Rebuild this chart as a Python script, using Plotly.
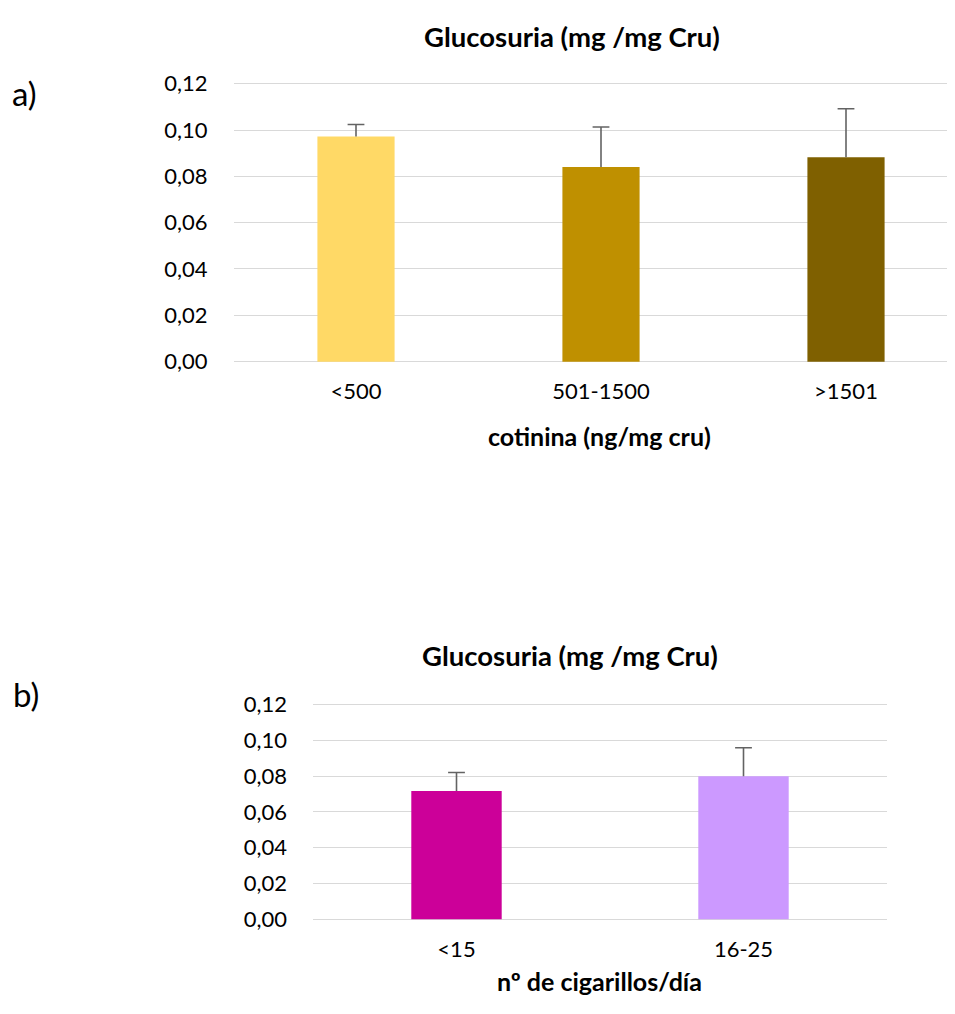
import plotly.graph_objects as go

# page is 955x1014; the html body adds an 8px margin, so the figure is 939x998
PAGE_W, PAGE_H = 955, 1014
OFF = 8
W, H = PAGE_W - 2 * OFF, PAGE_H - 2 * OFF

# ---- data ----
cotinina_cats = ["<500", "501-1500", ">1501"]
cotinina_vals = [0.0972, 0.0840, 0.0883]
cotinina_err = [0.0052, 0.0173, 0.0209]
cotinina_colors = ["#FFD966", "#BF9000", "#7F6000"]

cig_cats = ["<15", "16-25"]
cig_vals = [0.0717, 0.0800]
cig_err = [0.0104, 0.0159]
cig_colors = ["#CC0099", "#CC99FF"]

y_ticks = [0.00, 0.02, 0.04, 0.06, 0.08, 0.10, 0.12]
chart_title = "Glucosuria (mg /mg Cru)"
top_xtitle = "cotinina (ng/mg cru)"
bot_xtitle = "nº de cigarillos/día"

FONT = "Lato, Calibri, Carlito, sans-serif"
GRID = "#D9D9D9"
ERR = "#636363"


def px_x(p):
    return (p - OFF) / W


def px_y(p):
    return 1 - (p - OFF) / H


def yrange(zero_px, top_px, top_val, lo_px, hi_px):
    scale = (zero_px - top_px) / top_val
    return [-(lo_px - zero_px) / scale, (zero_px - hi_px) / scale]


fig = go.Figure()


def add_chart(cats, vals, errs, colors, xa, ya):
    fig.add_trace(go.Bar(
        x=cats, y=vals,
        marker=dict(color=colors, line=dict(width=0)),
        xaxis=xa, yaxis=ya, showlegend=False, name="",
    ))
    # upper error bars only (no lower cap): hat at value+error, stem down to bar top
    tops = [v + e for v, e in zip(vals, errs)]
    fig.add_trace(go.Scatter(
        x=cats, y=tops, mode="markers",
        marker=dict(symbol="line-ew", size=12, color=ERR,
                    line=dict(color=ERR, width=1.6)),
        error_y=dict(type="data", symmetric=False,
                     array=[0] * len(errs), arrayminus=errs,
                     color=ERR, thickness=1.6, width=0),
        xaxis=xa, yaxis=ya, showlegend=False, name="", hoverinfo="skip",
    ))


add_chart(cotinina_cats, cotinina_vals, cotinina_err, cotinina_colors, "x", "y")
add_chart(cig_cats, cig_vals, cig_err, cig_colors, "x2", "y2")

tickfont = dict(family=FONT, size=22, color="#000000")

t_left, t_band = 233.5, 245.0
b_left, b_right = 313.0, 887.0
right_edge = PAGE_W - OFF

fig.update_layout(
    width=W, height=H,
    margin=dict(l=0, r=0, t=0, b=0),
    paper_bgcolor="white", plot_bgcolor="white",
    separators=",.",
    bargap=0.685,
    font=dict(family=FONT, color="#000000"),
    xaxis=dict(
        domain=[px_x(t_left), 1.0], anchor="y",
        range=[-0.5, -0.5 + (right_edge - t_left) / t_band],
        showgrid=False, zeroline=False, showline=False, ticks="",
        tickfont=tickfont, ticklabelstandoff=11,
    ),
    yaxis=dict(
        domain=[px_y(362), px_y(70)], anchor="x",
        range=yrange(358.3, 75.0, 0.12, 362, 70),
        tickvals=y_ticks, tickformat=".2f",
        showgrid=True, gridcolor=GRID, gridwidth=1.3,
        zeroline=False, showline=False, ticks="",
        tickfont=tickfont, ticklabelstandoff=25,
    ),
    xaxis2=dict(
        domain=[px_x(b_left), px_x(b_right)], anchor="y2",
        range=[-0.5, 1.5],
        showgrid=False, zeroline=False, showline=False, ticks="",
        tickfont=tickfont, ticklabelstandoff=12,
    ),
    yaxis2=dict(
        domain=[px_y(930), px_y(704)], anchor="x2",
        range=yrange(926.7, 708.0, 0.12, 930, 704),
        tickvals=y_ticks, tickformat=".2f",
        showgrid=True, gridcolor=GRID, gridwidth=1.3,
        zeroline=False, showline=False, ticks="",
        tickfont=tickfont, ticklabelstandoff=25,
    ),
)

ann = []
title_font = dict(family=FONT, size=27.5, color="#000000")
for text, cx, cy in [(chart_title, 571.5, 27), (chart_title, 570, 658)]:
    ann.append(dict(text="<b>%s</b>" % text, x=px_x(cx), y=px_y(cy),
                    xref="paper", yref="paper", xanchor="center", yanchor="middle",
                    showarrow=False, font=title_font))
axis_title_font = dict(family=FONT, size=25, color="#000000")
ann.append(dict(text="<b>%s</b>" % top_xtitle, x=px_x(599), y=px_y(434),
                xref="paper", yref="paper", xanchor="center", yanchor="middle",
                showarrow=False, font=axis_title_font))
ann.append(dict(text="<b>%s</b>" % bot_xtitle, x=px_x(599), y=0,
                xref="paper", yref="paper", xanchor="center", yanchor="bottom",
                showarrow=False, borderpad=0, font=axis_title_font))
for text, cx, cy in [("a)", 24.5, 84.5), ("b)", 26, 697.5)]:
    ann.append(dict(text=text, x=px_x(cx), y=px_y(cy),
                    xref="paper", yref="paper", xanchor="center", yanchor="middle",
                    showarrow=False, font=dict(family=FONT, size=33, color="#000000")))
fig.update_layout(annotations=ann)

fig.write_html("out.html")
